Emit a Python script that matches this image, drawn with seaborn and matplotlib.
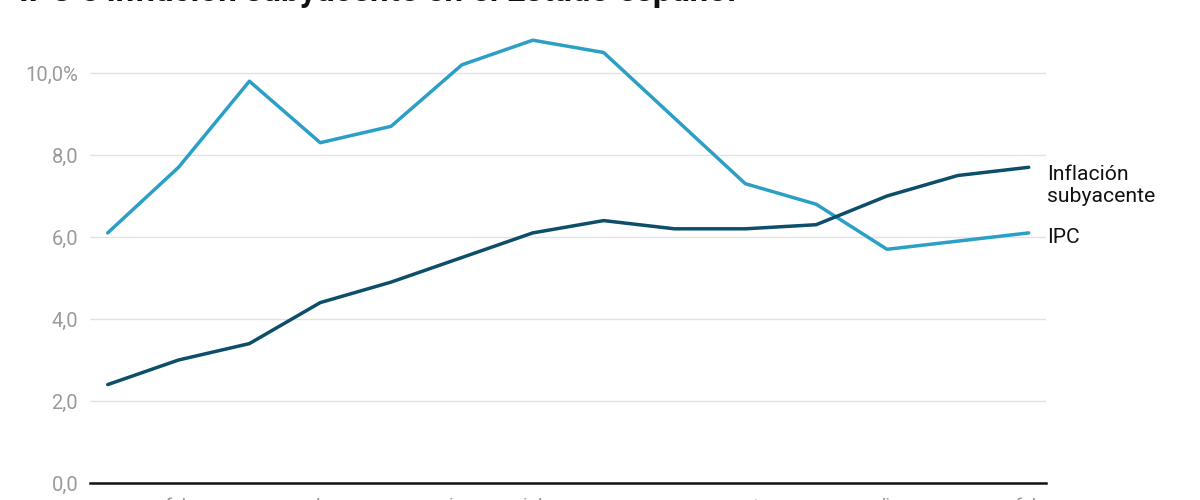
import pandas as pd
import seaborn as sns
import matplotlib.pyplot as plt

meses = ['ene', 'feb', 'mar', 'abr', 'may', 'jun', 'jul', 'ago', 'sep', 'oct', 'nov', 'dic', 'ene', 'feb']
ipc = [6.1, 7.7, 9.8, 8.3, 8.7, 10.2, 10.8, 10.5, 8.9, 7.3, 6.8, 5.7, 5.9, 6.1]
subyacente = [2.4, 3.0, 3.4, 4.4, 4.9, 5.5, 6.1, 6.4, 6.2, 6.2, 6.3, 7.0, 7.5, 7.7]
yticks = [0, 2, 4, 6, 8, 10]
ytick_labels = ['0,0', '2,0', '4,0', '6,0', '8,0', '10,0%']

sns.set_style('white')
plt.rcParams['font.family'] = ['Roboto', 'DejaVu Sans']

df = pd.DataFrame({'mes': range(len(meses)), 'IPC': ipc, 'Inflación\nsubyacente': subyacente})
long_df = df.melt(id_vars='mes', var_name='serie', value_name='valor')

fig = plt.figure(figsize=(12, 5), dpi=100)
ax = fig.add_axes([0.075, 0.034, 0.797, 0.902])

colores = {'IPC': '#2b9fc6', 'Inflación\nsubyacente': '#0d4e6b'}
sns.lineplot(data=long_df, x='mes', y='valor', hue='serie', palette=colores,
             linewidth=2.5, legend=False, ax=ax)

ax.set_xlim(-0.25, len(meses) - 0.75)
ax.set_ylim(0, 11)
ax.set_yticks(yticks)
ax.set_yticklabels(ytick_labels)
ax.set_xticks(range(len(meses)))
ax.set_xticklabels(meses)
ax.set_xlabel('')
ax.set_ylabel('')
ax.tick_params(axis='y', length=0, pad=8.5, labelsize=14.5, labelcolor='#9a9a9a')
ax.tick_params(axis='x', length=0, pad=10.5, labelsize=14.5, labelcolor='#9a9a9a')
ax.grid(axis='y', color='#e3e3e3', linewidth=1)
ax.set_axisbelow(True)
for s in ['top', 'right', 'left']:
    ax.spines[s].set_visible(False)
ax.spines['bottom'].set_color('#111111')
ax.spines['bottom'].set_linewidth(1.8)

# etiquetas al final de cada linea
ax.annotate('Inflación\nsubyacente', xy=(len(meses) - 1, subyacente[-1]), xytext=(13.5, -13),
            textcoords='offset points', va='center', ha='left', fontsize=15.2,
            color='#111111', linespacing=1.22)
ax.annotate('IPC', xy=(len(meses) - 1, ipc[-1]), xytext=(13.5, -3),
            textcoords='offset points', va='center', ha='left', fontsize=15.2, color='#111111')

fig.text(0.016, 0.997, 'IPC e inflación subyacente en el Estado español', fontsize=24,
         fontweight='bold', va='baseline', ha='left', color='#111111')

fig.savefig('out.png', dpi=100)
